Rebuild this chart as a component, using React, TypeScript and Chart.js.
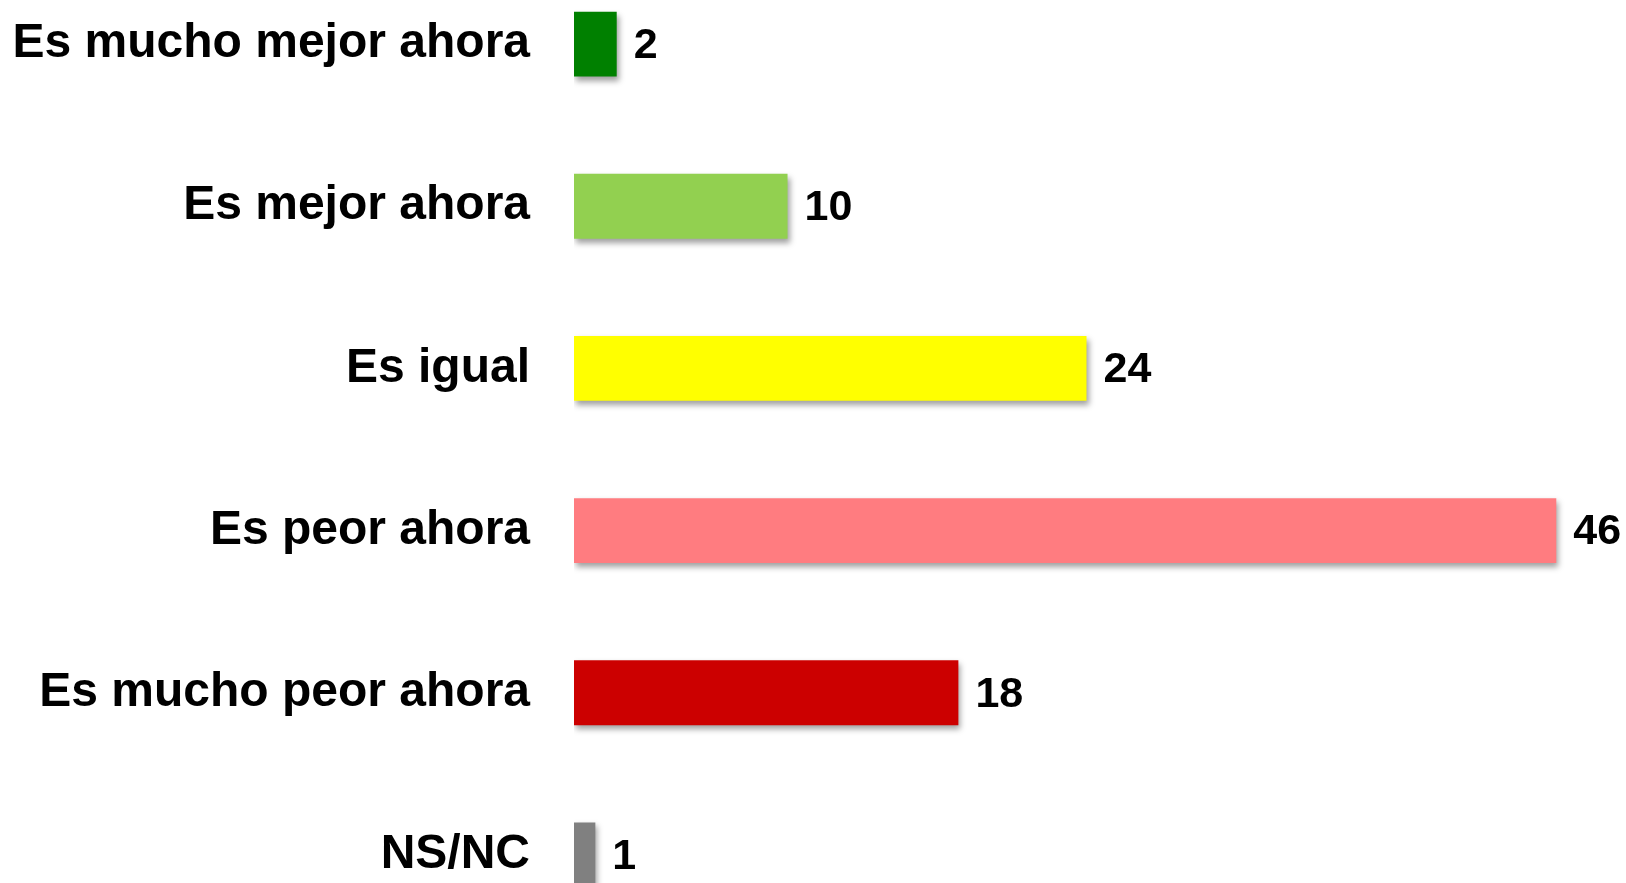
import React, { useEffect, useRef } from "react";
import { Chart, registerables } from "chart.js";

Chart.register(...registerables);

const categories = [
  "Es mucho mejor ahora",
  "Es mejor ahora",
  "Es igual",
  "Es peor ahora",
  "Es mucho peor ahora",
  "NS/NC",
];
const values = [2, 10, 24, 46, 18, 1];
const colors = ["#008000", "#92D050", "#FFFF00", "#FF7C80", "#CC0000", "#808080"];

const FONT = "'Liberation Sans', Arial, Helvetica, sans-serif";

const barShadow = {
  id: "barShadow",
  beforeDatasetDraw(chart: any) {
    const ctx = chart.ctx;
    ctx.save();
    ctx.shadowColor = "rgba(0,0,0,0.38)";
    ctx.shadowBlur = 6;
    ctx.shadowOffsetX = 2;
    ctx.shadowOffsetY = 4;
  },
  afterDatasetDraw(chart: any) {
    chart.ctx.restore();
  },
};

const valueLabels = {
  id: "valueLabels",
  afterDatasetsDraw(chart: any) {
    const ctx = chart.ctx;
    const meta = chart.getDatasetMeta(0);
    ctx.save();
    ctx.font = `bold 43px ${FONT}`;
    ctx.fillStyle = "#000";
    ctx.textAlign = "left";
    ctx.textBaseline = "middle";
    meta.data.forEach((bar: any, i: number) => {
      ctx.fillText(String(values[i]), bar.x + 17, bar.y + 2);
    });
    ctx.restore();
  },
};

export default function App() {
  const ref = useRef<HTMLCanvasElement | null>(null);

  useEffect(() => {
    if (!ref.current) return;
    const chart = new Chart(ref.current, {
      type: "bar",
      data: {
        labels: categories,
        datasets: [
          {
            data: values,
            backgroundColor: colors,
            borderWidth: 0,
            barPercentage: 0.4,
            categoryPercentage: 1.0,
          },
        ],
      },
      options: {
        indexAxis: "y",
        animation: false,
        responsive: true,
        maintainAspectRatio: false,
        layout: { padding: { left: 12, right: 27, top: 0, bottom: 0 } },
        plugins: {
          legend: { display: false },
          tooltip: { enabled: false },
        },
        scales: {
          x: { display: false, min: 0, max: 48 },
          y: {
            grid: { display: false, drawTicks: false },
            border: { display: false },
            ticks: {
              color: "#000",
              padding: 44,
              font: { size: 48, weight: "bold", family: FONT },
            },
            afterFit(scale: any) {
              scale.width = 562;
              scale.paddingTop = 0;
              scale.paddingBottom = 0;
            },
          },
        },
      },
      plugins: [barShadow, valueLabels],
    });
    return () => chart.destroy();
  }, []);

  return (
    <div
      style={{
        position: "fixed",
        left: 0,
        top: 0,
        width: "100vw",
        height: "100vh",
        overflow: "hidden",
        background: "#fff",
      }}
    >
      <div
        style={{
          position: "absolute",
          left: 0,
          top: -37,
          width: 1626,
          height: 973,
        }}
      >
        <canvas ref={ref} />
      </div>
    </div>
  );
}
